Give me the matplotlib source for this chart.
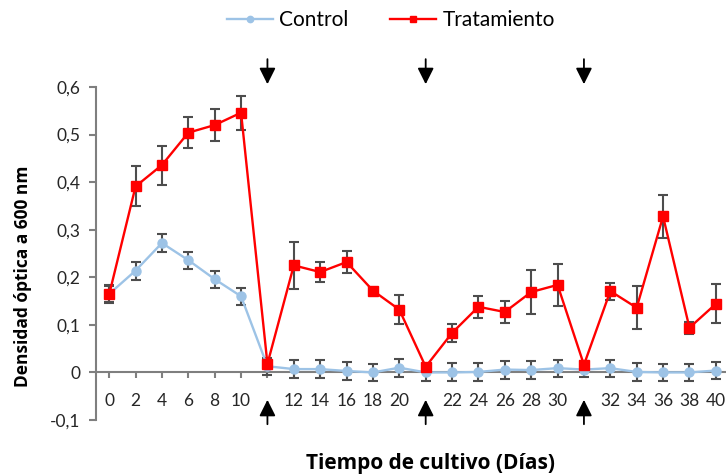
import matplotlib
matplotlib.use("Agg")
import matplotlib.pyplot as plt
import matplotlib.transforms as mtransforms

# category labels (blank slots are the re-inoculation points)
dias = ['0', '2', '4', '6', '8', '10', '', '12', '14', '16', '18', '20', '',
        '22', '24', '26', '28', '30', '', '32', '34', '36', '38', '40']

control = [0.165, 0.214, 0.272, 0.236, 0.196, 0.160, 0.013, 0.007, 0.007, 0.003, 0.000, 0.010,
           0.000, 0.000, 0.001, 0.006, 0.005, 0.009, 0.006, 0.009, 0.001, 0.000, 0.000, 0.004]
control_err = [0.018, 0.019, 0.019, 0.018, 0.018, 0.018, 0.018, 0.019, 0.019, 0.018, 0.018, 0.019,
               0.018, 0.019, 0.018, 0.019, 0.018, 0.018, 0.015, 0.018, 0.018, 0.018, 0.018, 0.018]

tratamiento = [0.164, 0.391, 0.436, 0.504, 0.520, 0.546, 0.018, 0.225, 0.211, 0.232, 0.172, 0.132,
               0.012, 0.083, 0.138, 0.127, 0.169, 0.184, 0.016, 0.171, 0.136, 0.328, 0.094, 0.144]
tratamiento_err = [0.018, 0.042, 0.041, 0.032, 0.034, 0.036, 0.008, 0.050, 0.021, 0.023, 0.004, 0.031,
                   0.005, 0.019, 0.023, 0.023, 0.047, 0.044, 0.008, 0.018, 0.045, 0.045, 0.013, 0.041]

y_ticks = [-0.1, 0.0, 0.1, 0.2, 0.3, 0.4, 0.5, 0.6]

plt.rcParams['font.family'] = ['Lato', 'DejaVu Sans']

W, H = 726, 474
fig = plt.figure(figsize=(W / 100, H / 100), dpi=100)
# axes runs slightly past the right edge, like the original
ax = fig.add_axes([96 / W, 54 / H, 633 / W, 333 / H])

x = list(range(len(dias)))
axis_grey = '#7f7f7f'
err_grey = '#4d4d4d'

ax.errorbar(x, control, yerr=control_err, fmt='none', ecolor=err_grey,
            elinewidth=1.5, capsize=3.3, capthick=1.5, zorder=2)
ax.errorbar(x, tratamiento, yerr=tratamiento_err, fmt='none', ecolor=err_grey,
            elinewidth=1.5, capsize=3.3, capthick=1.5, zorder=4)
ax.plot(x, control, color='#9dc3e6', lw=1.7, marker='o', ms=6.5, label='Control', zorder=3)
ax.plot(x, tratamiento, color='#ff0000', lw=1.7, marker='s', ms=7, label='Tratamiento', zorder=5)

ax.set_xlim(-0.5, len(dias) - 0.5)
ax.set_ylim(-0.1, 0.6)
ax.set_xticks(x)
ax.set_xticklabels(dias)
ax.set_yticks(y_ticks)
ax.set_yticklabels([('%g' % v).replace('.', ',') for v in y_ticks])

for s in ['top', 'right']:
    ax.spines[s].set_visible(False)
ax.spines['bottom'].set_position(('data', 0))
for s in ['left', 'bottom']:
    ax.spines[s].set_color(axis_grey)
    ax.spines[s].set_linewidth(1.5)
ax.tick_params(axis='x', length=4, width=1.5, color=axis_grey, pad=11,
               labelsize=12.5, labelcolor='#262626')
ax.tick_params(axis='y', length=5, width=1.5, color=axis_grey, pad=6,
               labelsize=12.5, labelcolor='#262626')

ax.set_ylabel('Densidad óptica a 600 nm', fontsize=12.5, fontweight='bold',
              family=['Open Sans', 'DejaVu Sans'], color='black')
ax.yaxis.set_label_coords(-0.101, 0.432)
fig.text(431 / W, 1 - 463 / H, 'Tiempo de cultivo (Días)', fontsize=15,
         fontweight='bold', family=['Open Sans', 'DejaVu Sans'], ha='center', va='center')

# arrows above and below the blank (re-inoculation) slots
trans = mtransforms.blended_transform_factory(ax.transData, ax.transAxes)
for i, lab in enumerate(dias):
    if lab == '':
        ax.annotate('', xy=(i, 1.0), xytext=(i, 1.092), xycoords=trans, textcoords=trans,
                    arrowprops=dict(arrowstyle='-|>,head_length=0.7,head_width=0.35',
                                    color='black', lw=1.3, mutation_scale=14),
                    annotation_clip=False)
        ax.annotate('', xy=(i, 0.069), xytext=(i, -0.021), xycoords=trans, textcoords=trans,
                    arrowprops=dict(arrowstyle='-|>,head_length=0.7,head_width=0.35',
                                    color='black', lw=1.3, mutation_scale=14),
                    annotation_clip=False)

fig.legend(loc='center', bbox_to_anchor=(391 / W, 1 - 20 / H), ncol=2, frameon=False,
           fontsize=15, handlelength=2.2, columnspacing=2.0, handletextpad=0.3,
           markerscale=0.7)

fig.savefig('out.png', dpi=100)
